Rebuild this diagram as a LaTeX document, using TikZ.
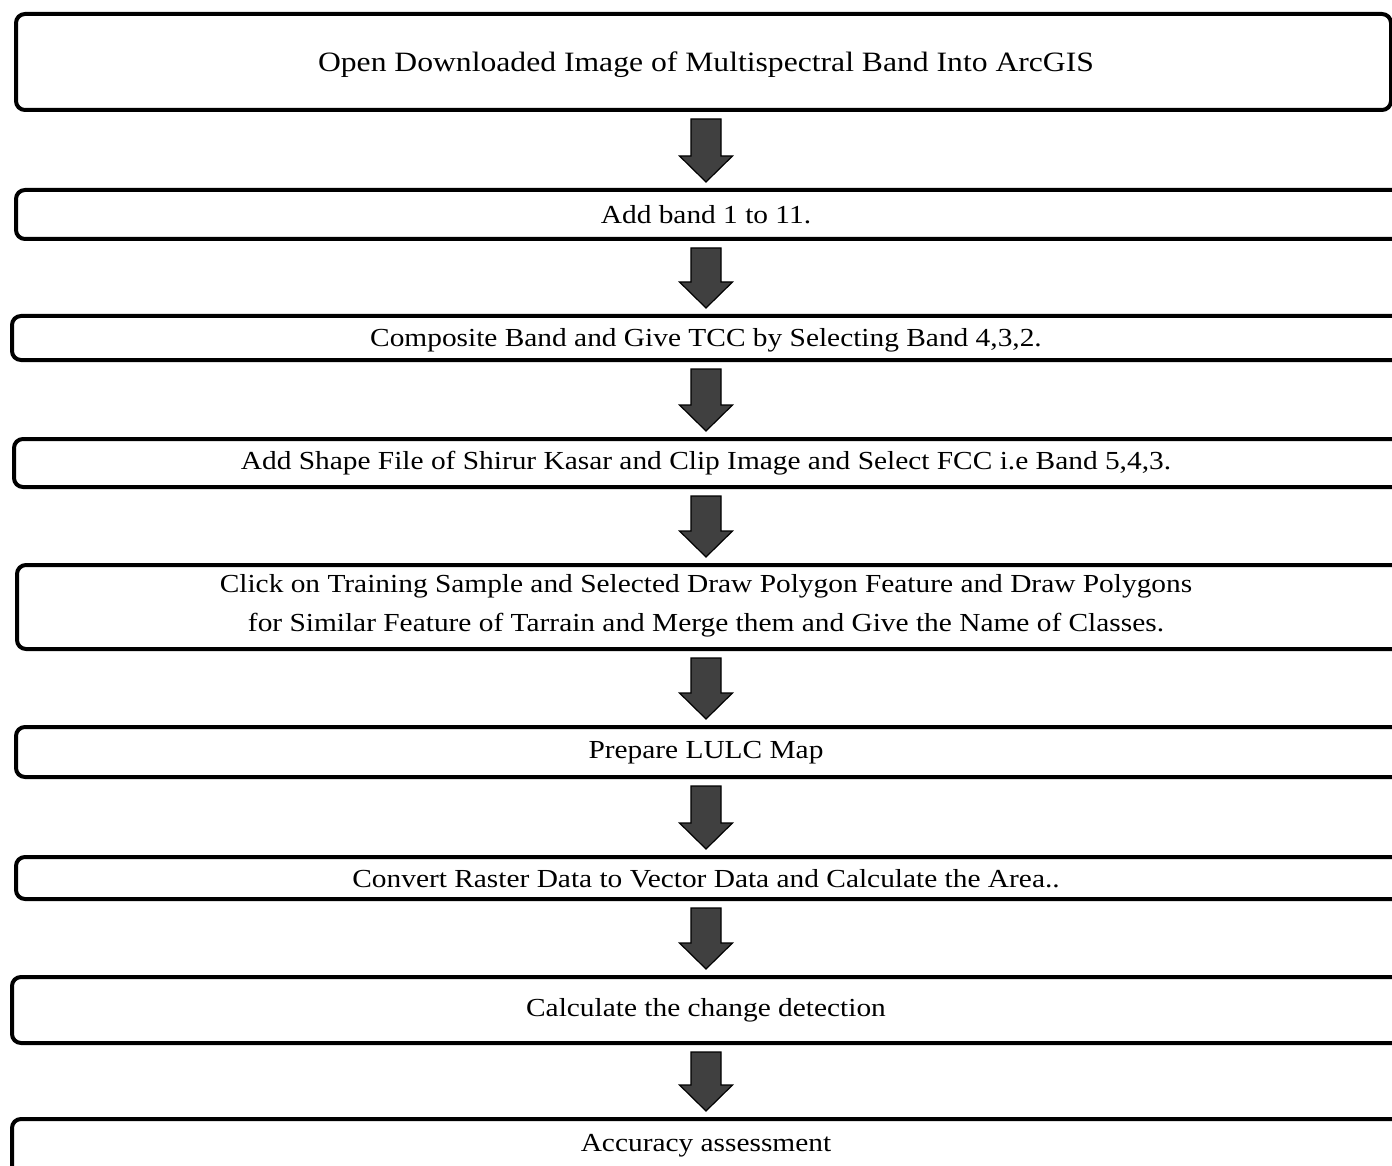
\documentclass[tikz,border=0pt]{standalone}
\usepackage{fontspec}
\setmainfont{Liberation Serif}[FakeStretch=1.13]
\usetikzlibrary{calc}
\definecolor{arrowgray}{HTML}{404040}
\tikzset{
  box/.style={draw=black, line width=4pt, rounded corners=9pt, inner sep=0pt, anchor=north west, fill=none},
  steptext/.style={font=\fontsize{26}{39}\selectfont, inner sep=0pt, align=center, text=black, yshift=-3pt},
  bigtext/.style={steptext, font=\fontsize{28}{39}\selectfont},
  blockarrow/.style={fill=arrowgray, draw=black, line width=1.2pt, line join=miter},
}
\newcommand\flowarrow[2]{%
  \path (ax |- #1.south) ++(0,-7) coordinate (fs) (ax |- #2.north) ++(0,6) coordinate (ft);
  \draw[blockarrow] ($(fs)+(-15,0)$) -- ($(fs)+(15,0)$) -- ($(ft)+(15,26)$) -- ($(ft)+(26.5,26)$)
     -- (ft) -- ($(ft)+(-26.5,26)$) -- ($(ft)+(-15,26)$) -- cycle;
}
\begin{document}
\begin{tikzpicture}[x=1pt,y=1pt]
\useasboundingbox (0,0) rectangle (1392,-1166);
\coordinate (ax) at (706,0);
% boxes
\node[box, minimum width=1375pt, minimum height=96pt] (b1) at (14,-12) {};
\node[box, minimum width=1396pt, minimum height=49pt] (b2) at (14,-188) {};
\node[box, minimum width=1400pt, minimum height=44pt] (b3) at (10,-314) {};
\node[box, minimum width=1398pt, minimum height=48pt] (b4) at (12,-437) {};
\node[box, minimum width=1395pt, minimum height=84pt] (b5) at (15,-563) {};
\node[box, minimum width=1396pt, minimum height=50pt] (b6) at (14,-725) {};
\node[box, minimum width=1396pt, minimum height=42pt] (b7) at (14,-855) {};
\node[box, minimum width=1400pt, minimum height=66pt] (b8) at (10,-975) {};
\node[box, minimum width=1400pt, minimum height=80pt] (b9) at (10,-1117) {};
% texts
\node[bigtext] (t1) at (706,-62) {Open Downloaded Image of Multispectral Band Into ArcGIS};
\node[steptext] (t2) at (706,-212) {Add band 1 to 11.};
\node[steptext] (t3) at (706,-337) {Composite Band and Give TCC by Selecting Band 4,3,2.};
\node[steptext] (t4) at (706,-460) {Add Shape File of Shirur Kasar and Clip Image and Select FCC i.e Band 5,4,3.};
\node[steptext] (t5) at (706,-603) {Click on Training Sample and Selected Draw Polygon Feature and Draw Polygons\\for Similar Feature of Tarrain and Merge them and Give the Name of Classes.};
\node[steptext] (t6) at (706,-750) {Prepare LULC Map};
\node[steptext] (t7) at (706,-876) {Convert Raster Data to Vector Data and Calculate the Area..};
\node[steptext] (t8) at (706,-1007) {Calculate the change detection};
\node[steptext] (t9) at (706,-1143) {Accuracy assessment};
% arrows
\flowarrow{b1}{b2}
\flowarrow{b2}{b3}
\flowarrow{b3}{b4}
\flowarrow{b4}{b5}
\flowarrow{b5}{b6}
\flowarrow{b6}{b7}
\flowarrow{b7}{b8}
\flowarrow{b8}{b9}
\end{tikzpicture}
\end{document}
